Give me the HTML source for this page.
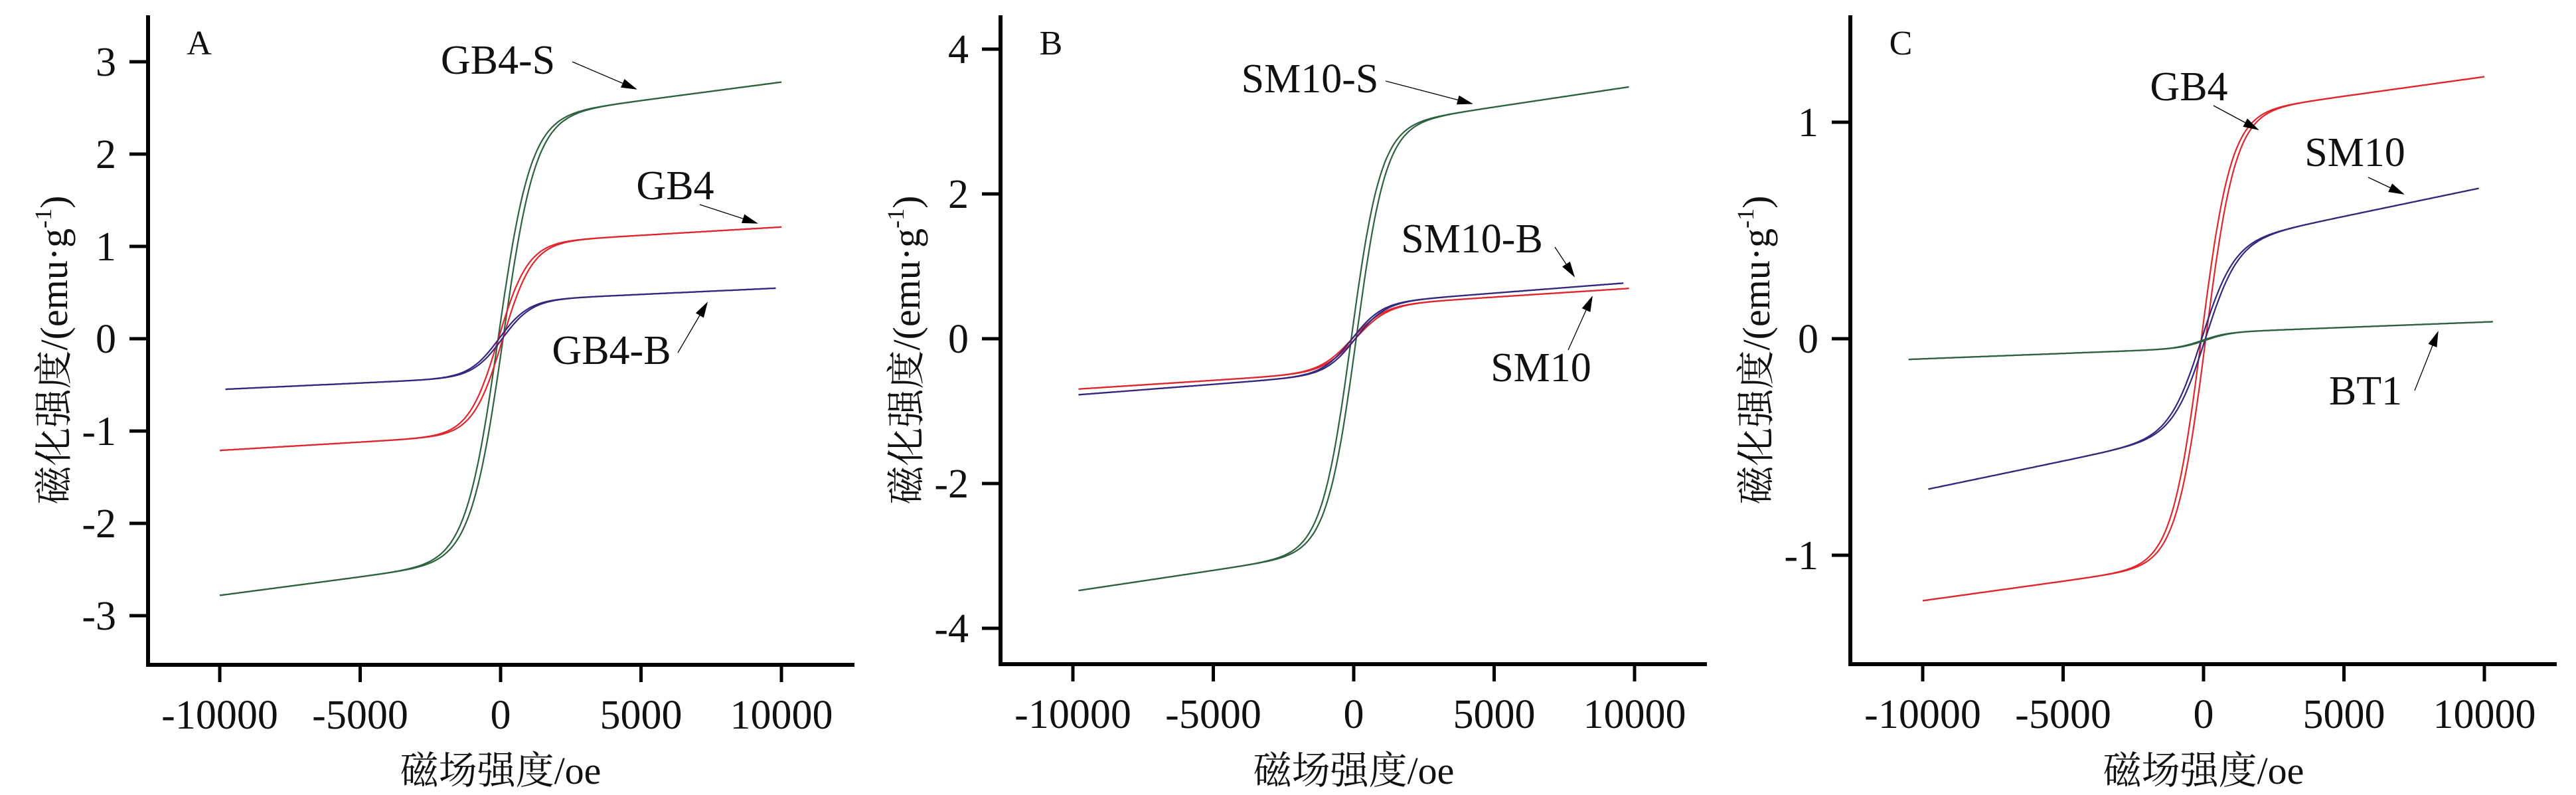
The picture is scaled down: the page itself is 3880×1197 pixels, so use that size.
<!DOCTYPE html>
<html><head><meta charset="utf-8"><style>
html,body{margin:0;padding:0;background:#fff;}
svg{display:block;}
text{font-family:"Liberation Serif","Noto Serif CJK SC",serif;fill:#111;}
</style></head><body>
<svg id="s" width="3880" height="1197" viewBox="0 0 3880 1197" xmlns="http://www.w3.org/2000/svg">
<defs><marker id="ah" markerWidth="24" markerHeight="14" refX="22" refY="7" orient="auto" markerUnits="userSpaceOnUse"><path d="M0,0 L24,7 L0,14 Z" fill="#000"/></marker></defs>
<g id="g"></g>
</svg>
<script>
var NS="http://www.w3.org/2000/svg",G=document.getElementById('g');
function el(t,a,txt){var e=document.createElementNS(NS,t);for(var k in a)e.setAttribute(k,a[k]);if(txt!==undefined)e.textContent=txt;G.appendChild(e);return e;}
var GREEN="#2d6240",RED="#e0262c",BLUE="#33287e";
function panel(P){
  var X=function(h){return P.x0+(h/10000)*(P.x10-P.x0);};
  var Y=function(m){return P.y0-m*P.yu;};
  // curves
  P.curves.forEach(function(c){
    [-1,1].forEach(function(s){
      var d="";
      for(var h=c.h1;h<=c.h2+1;h+=50){
        var m=c.a*Math.tanh((h+s*c.c)/c.h0)+c.b*h+(c.o||0);
        d+=(d?"L":"M")+X(h).toFixed(1)+","+Y(m).toFixed(1);
      }
      el('path',{d:d,fill:'none',stroke:c.col,'stroke-width':2.2});
    });
  });
  // axes
  el('line',{x1:P.ax,y1:P.top,x2:P.ax,y2:P.bot+3,stroke:'#000','stroke-width':6});
  el('line',{x1:P.ax-3,y1:P.bot,x2:P.right,y2:P.bot,stroke:'#000','stroke-width':6});
  P.yt.forEach(function(v){var y=Y(v);
    el('line',{x1:P.ax-28,y1:y,x2:P.ax,y2:y,stroke:'#000','stroke-width':5});
    el('text',{x:P.ax-48,y:y+21,'font-size':62,'text-anchor':'end'},v<0?'-'+(-v):String(v));
  });
  [-10000,-5000,0,5000,10000].forEach(function(v){var x=X(v);
    el('line',{x1:x,y1:P.bot,x2:x,y2:P.bot+26,stroke:'#000','stroke-width':5});
    el('text',{x:x,y:P.bot+96,'font-size':62,'text-anchor':'middle'},String(v));
  });
  var cx=X(0);
  el('text',{x:cx,y:1180,'font-size':58,'text-anchor':'middle'},'磁场强度/oe');
  var t=el('text',{transform:'translate('+(P.ax-122)+',527) rotate(-90)','font-size':58,'text-anchor':'middle'});
  t.innerHTML='磁化强度/(emu·g<tspan font-size="36" dy="-24">-1</tspan><tspan dy="24">)</tspan>';
  el('text',{x:P.lx,y:82,'font-size':52,'text-anchor':'middle'},P.label);
  P.ann.forEach(function(a){
    el('text',{x:a.tx,y:a.ty+21,'font-size':62,'text-anchor':'middle'},a.t);
    el('line',{x1:a.x1,y1:a.y1,x2:a.x2,y2:a.y2,stroke:'#000','stroke-width':1.3,'marker-end':'url(#ah)'});
  });
}
panel({x0:754,x10:1177,y0:510,yu:139,ax:223,top:23,bot:1001,right:1287,label:'A',lx:300,
 yt:[3,2,1,0,-1,-2,-3],
 curves:[
  {a:2.38,b:4e-5,h0:1150,c:90,h1:-10000,h2:10000,col:GREEN},
  {a:1.03,b:1.8e-5,h0:1050,c:80,h1:-10000,h2:10000,col:RED},
  {a:0.41,b:1.4e-5,h0:1050,c:60,h1:-9800,h2:9800,col:BLUE}],
 ann:[{t:'GB4-S',tx:750,ty:90,x1:862,y1:93,x2:958,y2:134},
      {t:'GB4',tx:1017,ty:279,x1:1054,y1:308,x2:1140,y2:336},
      {t:'GB4-B',tx:921,ty:527,x1:1021,y1:531,x2:1065,y2:456}]});
panel({x0:2039,x10:2462,y0:510,yu:109,ax:1507,top:23,bot:1000,right:2571,label:'B',lx:1583,
 yt:[4,2,0,-2,-4],
 curves:[
  {a:2.91,b:5.8e-5,h0:1050,c:90,h1:-9800,h2:9800,col:GREEN},
  {a:0.45,b:2.5e-5,h0:1150,c:60,h1:-9800,h2:9800,col:RED},
  {a:0.48,b:3e-5,h0:1050,c:60,h1:-9800,h2:9600,col:BLUE}],
 ann:[{t:'SM10-S',tx:1973,ty:118,x1:2087,y1:122,x2:2217,y2:156},
      {t:'SM10-B',tx:2217,ty:359,x1:2342,y1:372,x2:2371,y2:416},
      {t:'SM10',tx:2321,ty:553,x1:2362,y1:527,x2:2398,y2:447}]});
panel({x0:3319,x10:3742,y0:510,yu:326,ax:2787,top:23,bot:1000,right:3851,label:'C',lx:2863,
 yt:[1,0,-1],
 curves:[
  {a:1.03,b:1.8e-5,h0:1050,c:80,h1:-10000,h2:10000,col:RED},
  {a:0.43,b:2.7e-5,h0:1150,c:70,h1:-9800,h2:9800,col:BLUE},
  {a:0.035,b:5e-6,h0:900,c:60,o:-0.008,h1:-10500,h2:10300,col:GREEN}],
 ann:[{t:'GB4',tx:3297,ty:130,x1:3334,y1:159,x2:3401,y2:195},
      {t:'SM10',tx:3547,ty:229,x1:3567,y1:267,x2:3620,y2:292},
      {t:'BT1',tx:3563,ty:588,x1:3637,y1:588,x2:3672,y2:500}]});
</script>
</body></html>
